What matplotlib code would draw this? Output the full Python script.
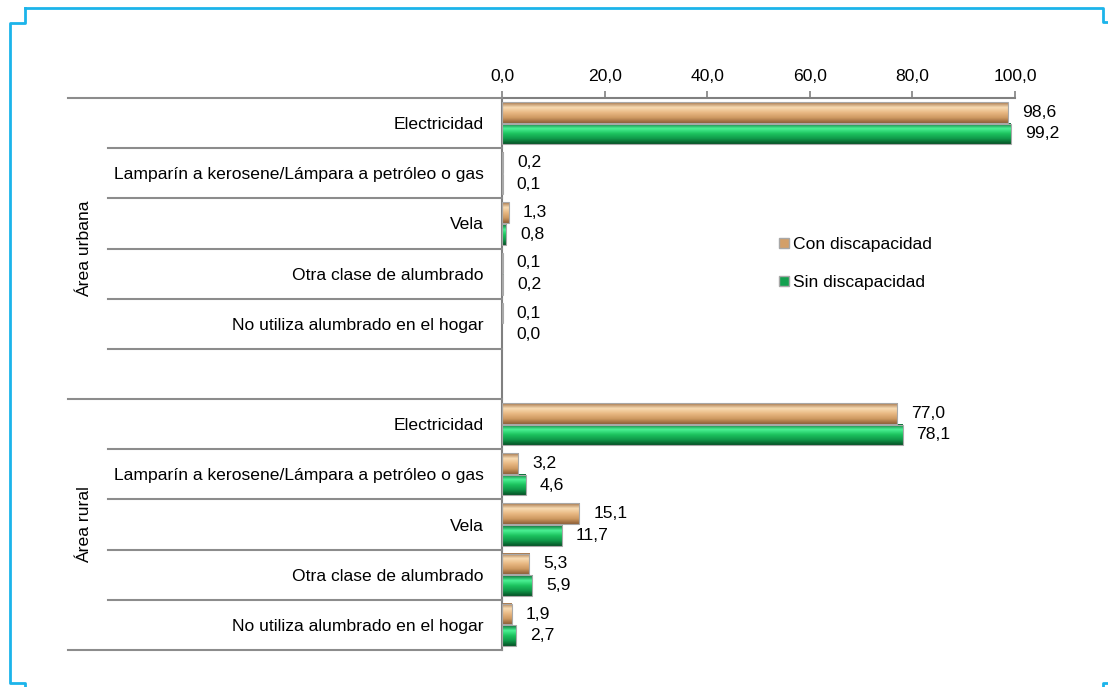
import numpy as np
import matplotlib
matplotlib.use('Agg')
import matplotlib.pyplot as plt
from matplotlib.colors import LinearSegmentedColormap
from matplotlib.patches import Patch
from matplotlib.lines import Line2D
from matplotlib.transforms import blended_transform_factory

plt.rcParams['font.family'] = ['Liberation Sans', 'DejaVu Sans']
FS = 12.6

# data
categories = ['Electricidad',
              'Lamparín a kerosene/Lámpara a petróleo o gas',
              'Vela',
              'Otra clase de alumbrado',
              'No utiliza alumbrado en el hogar']
groups = ['Área urbana', 'Área rural']
series_names = ['Con discapacidad', 'Sin discapacidad']
urbana_con = [98.6, 0.2, 1.3, 0.1, 0.1]
urbana_sin = [99.2, 0.1, 0.8, 0.2, 0.0]
rural_con = [77.0, 3.2, 15.1, 5.3, 1.9]
rural_sin = [78.1, 4.6, 11.7, 5.9, 2.7]
x_ticks = [0, 20, 40, 60, 80, 100]

# rows: 5 urban, 1 empty, 5 rural
con = urbana_con + [None] + rural_con
sin = urbana_sin + [None] + rural_sin
row_labels = categories + [''] + categories
rows = np.arange(len(row_labels))

fig = plt.figure(figsize=(11.08, 6.87), dpi=100)
ax = fig.add_axes([502 / 1108, 1 - 650 / 687, 513 / 1108, 552 / 687])

cmap_con = LinearSegmentedColormap.from_list('con', ['#a5754a', '#f8dcb3', '#e9b883', '#cf9a62', '#8e6038'])
cmap_sin = LinearSegmentedColormap.from_list('sin', ['#0a6a33', '#4cf295', '#1cc35e', '#10994a', '#065226'])
grad = np.linspace(0, 1, 64).reshape(-1, 1)
h = 0.41
for i in rows:
    for vals, cm, off in ((con, cmap_con, -0.215), (sin, cmap_sin, 0.215)):
        v = vals[i]
        if v is None:
            continue
        y = i + off
        if v > 0:
            ax.imshow(grad, cmap=cm, aspect='auto', interpolation='bilinear',
                      extent=[0, v, y + h / 2, y - h / 2], zorder=2)
            ax.barh(y, v, height=h, fill=False, edgecolor='#a8a8a8', lw=0.8, zorder=3)
        ax.annotate(f'{v:.1f}'.replace('.', ','), (v, y), xytext=(10, 0),
                    textcoords='offset points', va='center', ha='left',
                    fontsize=FS, annotation_clip=False)

ax.set_xlim(0, 100)
ax.set_ylim(len(rows) - 0.5, -0.5)
ax.xaxis.tick_top()
ax.set_xticks(x_ticks)
ax.set_xticklabels([f'{t:.1f}'.replace('.', ',') for t in x_ticks], fontsize=FS)
ax.tick_params(axis='x', direction='out', length=5, width=1.2, color='#808080', pad=5)
ax.set_yticks(rows)
ax.set_yticklabels(row_labels, fontsize=FS)
ax.tick_params(axis='y', length=0, pad=13)
for s in ('right', 'bottom'):
    ax.spines[s].set_visible(False)
for s in ('left', 'top'):
    ax.spines[s].set_color('#808080')
    ax.spines[s].set_linewidth(1.5)

# table lines on the left
tr = blended_transform_factory(fig.transFigure, ax.transData)
for b in np.arange(-0.5, len(rows), 1.0):
    x0 = 68 / 1108 if b in (-0.5, 5.5, len(rows) - 0.5) else 108 / 1108
    fig.add_artist(Line2D([x0, 502 / 1108], [b, b], transform=tr, color='#8c8c8c', lw=1.5))
fig.text(85 / 1108, 2.5, groups[0], rotation=90, ha='center', va='center', fontsize=FS, transform=tr)
fig.text(85 / 1108, 8.0, groups[1], rotation=90, ha='center', va='center', fontsize=FS, transform=tr)

handles = [Patch(facecolor='#d39f68', edgecolor='#a8a8a8'), Patch(facecolor='#13a04f', edgecolor='#a8a8a8')]
ax.legend(handles, series_names, loc='center left', bbox_to_anchor=(0.51, 0.70), frameon=False,
          fontsize=FS, handlelength=0.55, handleheight=0.55, handletextpad=0.2, labelspacing=1.3)

# cyan corner frame
cy = '#1cb4ea'
def fl(xs, ys):
    fig.add_artist(Line2D(np.array(xs) / 1108, 1 - np.array(ys) / 687, color=cy, lw=2))
fl([25, 25, 10, 10, 25, 25], [8, 23, 23, 683, 683, 690])
fl([25, 1103, 1103, 1110], [8, 8, 22, 22])
fl([1110, 1103, 1103], [683, 683, 690])

fig.savefig('out.png', dpi=100)
